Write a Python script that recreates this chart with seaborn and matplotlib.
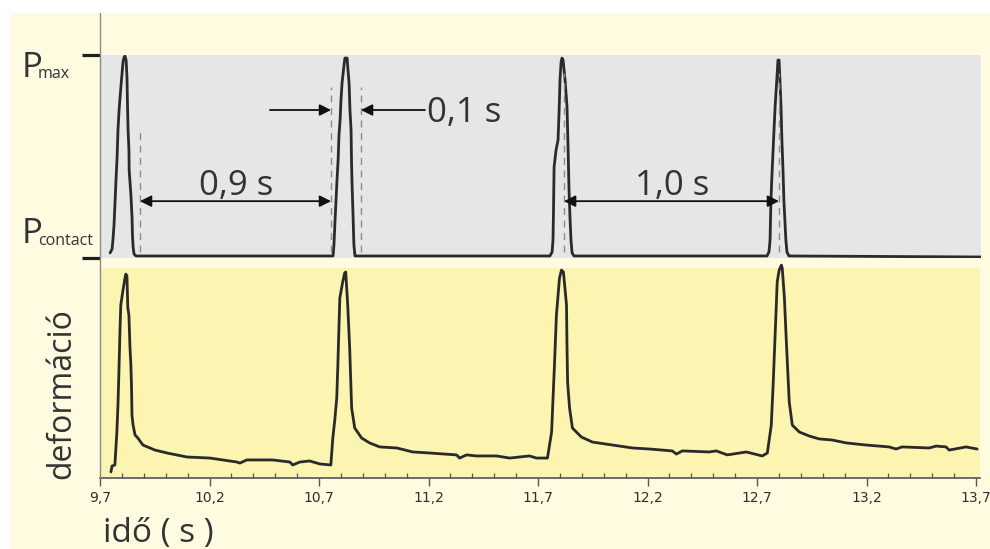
import numpy as np
import pandas as pd
import matplotlib
matplotlib.use("Agg")
import matplotlib.pyplot as plt
import seaborn as sns
from matplotlib.lines import Line2D
from matplotlib.patches import Rectangle

sns.set_theme(style="white")
plt.rcParams['font.family'] = ['Open Sans', 'DejaVu Sans']

# ---------------- data ----------------
# pressure trace: 0 = P_contact, 1 = P_max
press_t = [9.746, 9.755, 9.759, 9.764, 9.768, 9.773, 9.778, 9.782, 9.787, 9.796, 9.805, 9.810, 9.814,
           9.819, 9.823, 9.825, 9.828, 9.832, 9.833, 9.841, 9.846, 9.848, 9.851, 9.855, 9.864,
           10.763, 10.767, 10.772, 10.781, 10.786, 10.790, 10.795, 10.799, 10.804, 10.813, 10.817,
           10.827, 10.831, 10.836, 10.840, 10.845, 10.847, 10.849, 10.854, 10.858, 10.863,
           11.752, 11.762, 11.766, 11.768, 11.771, 11.780, 11.789, 11.794, 11.798, 11.803, 11.807,
           11.812, 11.821, 11.830, 11.835, 11.839, 11.844, 11.848, 11.853, 11.862,
           12.742, 12.751, 12.756, 12.760, 12.765, 12.774, 12.779, 12.788, 12.792, 12.797, 12.801,
           12.806, 12.810, 12.815, 12.819, 12.828, 12.833, 12.842, 13.718]
press_v = [0.025, 0.044, 0.089, 0.163, 0.261, 0.384, 0.498, 0.631, 0.729, 0.852, 0.966, 0.990, 0.995,
           0.975, 0.892, 0.778, 0.631, 0.532, 0.433, 0.310, 0.202, 0.113, 0.054, 0.020, 0.010,
           0.010, 0.064, 0.187, 0.384, 0.483, 0.606, 0.680, 0.778, 0.862, 0.951, 0.985,
           0.985, 0.926, 0.862, 0.729, 0.631, 0.483, 0.384, 0.212, 0.064, 0.010,
           0.010, 0.030, 0.089, 0.212, 0.448, 0.532, 0.581, 0.729, 0.877, 0.966, 0.985,
           0.975, 0.877, 0.744, 0.532, 0.335, 0.187, 0.089, 0.025, 0.010,
           0.010, 0.030, 0.089, 0.286, 0.419, 0.631, 0.744, 0.901, 0.975, 0.975, 0.877,
           0.744, 0.581, 0.433, 0.286, 0.089, 0.030, 0.010, 0.005]

# deformation trace (arbitrary units, 0-100)
deform_t = [9.750, 9.755, 9.768, 9.773, 9.777, 9.782, 9.786, 9.791, 9.795, 9.805, 9.814, 9.818, 9.823,
            9.827, 9.832, 9.837, 9.841, 9.844, 9.846, 9.851, 9.860, 9.873, 9.896, 9.951, 10.006,
            10.097, 10.202, 10.325, 10.339, 10.370, 10.489, 10.567, 10.580, 10.612, 10.658, 10.703, 10.754,
            10.763, 10.772, 10.781, 10.786, 10.795, 10.808, 10.817, 10.822, 10.831, 10.840, 10.849,
            10.863, 10.895, 10.931, 10.977, 11.055, 11.128, 11.205, 11.328, 11.342, 11.374, 11.419,
            11.511, 11.570, 11.661, 11.693, 11.743,
            11.762, 11.775, 11.784, 11.798, 11.807, 11.816, 11.830, 11.832, 11.835, 11.844, 11.857,
            11.898, 11.949, 12.040, 12.131, 12.209, 12.313, 12.332, 12.359, 12.482, 12.514, 12.564,
            12.651, 12.724, 12.747,
            12.765, 12.774, 12.788, 12.792, 12.801, 12.811, 12.815, 12.825, 12.833, 12.847, 12.861,
            12.893, 12.938, 12.984, 13.043, 13.107, 13.198, 13.303, 13.335, 13.362, 13.486, 13.518,
            13.563, 13.577, 13.654, 13.705]
deform_v = [2.9, 5.7, 6.2, 14.8, 21.9, 34.8, 49.0, 69.5, 82.4, 89.5, 95.2, 97.1, 96.2,
            81.0, 77.6, 61.9, 53.8, 42.9, 30.0, 25.2, 20.5, 19.0, 15.7, 13.3, 11.9,
            10.0, 9.5, 7.6, 7.1, 8.6, 8.6, 7.6, 6.2, 7.6, 8.1, 6.7, 6.2,
            19.0, 27.6, 38.1, 53.8, 85.7, 93.3, 97.6, 98.1, 82.4, 61.9, 33.3,
            23.8, 19.0, 16.7, 14.8, 14.3, 12.4, 11.9, 11.0, 9.5, 11.0, 10.5,
            10.5, 9.5, 10.5, 9.5, 9.5,
            21.9, 53.8, 77.6, 95.2, 99.0, 98.1, 82.4, 64.8, 45.7, 33.3, 23.8,
            19.5, 17.1, 15.7, 14.3, 13.8, 12.9, 11.4, 12.9, 12.4, 12.9, 11.0,
            12.4, 10.5, 11.9,
            25.2, 45.7, 82.4, 93.3, 99.0, 101.4, 100.0, 85.7, 66.7, 36.2, 25.2,
            21.9, 20.0, 18.6, 18.1, 16.7, 15.7, 14.8, 13.8, 14.8, 14.3, 15.2,
            14.8, 13.3, 14.8, 13.8]

xticks = [9.7, 10.2, 10.7, 11.2, 11.7, 12.2, 12.7, 13.2, 13.7]
xtick_labels = ['9,7', '10,2', '10,7', '11,2', '11,7', '12,2', '12,7', '13,2', '13,7']

# guide (dashed) lines in the pressure panel
guide_t = [9.882, 10.754, 10.890, 11.816, 12.797]
guide_top = [0.63, 0.84, 0.84, 0.91, 0.91]
# interval arrows: start, end, label
span_start = [9.882, 11.816]
span_end = [10.754, 12.797]
span_label = ['0,9 s', '1,0 s']
span_label_x = [10.320, 12.309]

# ---------------- styling ----------------
W, H = 990, 549
CREAM = '#fefbe1'
GRAY = '#e6e6e6'
YELLOW = '#fcf4b1'
INK = '#2a2a2a'
TXT = '#333333'

fig = plt.figure(figsize=(W / 100, H / 100), dpi=100, facecolor='white')
fig.patches.append(Rectangle((10 / W, 0), 980 / W, (H - 13) / H, transform=fig.transFigure,
                             facecolor=CREAM, edgecolor='none', zorder=-10))


def fbox(x0, y0, x1, y1):
    return [x0 / W, 1 - y1 / H, (x1 - x0) / W, (y1 - y0) / H]


ax1 = fig.add_axes(fbox(100, 55, 981, 258))
ax2 = fig.add_axes(fbox(100, 268, 980, 478))

XMIN, XMAX = 9.7, 13.718

# ---- pressure panel ----
ax1.set_facecolor(GRAY)
dfp = pd.DataFrame({'t': press_t, 'p': press_v})
sns.lineplot(data=dfp, x='t', y='p', ax=ax1, color=INK, lw=2.0, sort=False, estimator=None)
ax1.set_xlim(XMIN, XMAX)
ax1.set_ylim(0, 1)
for s in ax1.spines.values():
    s.set_visible(False)
ax1.set_xticks([])
ax1.set_yticks([0, 1])
ax1.tick_params(axis='y', length=13, width=2.3, color='#1e1e1e', direction='out',
                labelleft=False, left=True)
ax1.set_xlabel('')
ax1.set_ylabel('')

ax1.vlines(guide_t, 0.03, guide_top, colors='#8c8c8c', lw=1.0, linestyles=(0, (5, 4)))

arrow_kw = dict(arrowstyle='<|-|>', color='#111111', lw=1.3, mutation_scale=17,
                shrinkA=0, shrinkB=0)
for a, b, lab, lx in zip(span_start, span_end, span_label, span_label_x):
    ax1.annotate('', xy=(b, 0.28), xytext=(a, 0.28), arrowprops=arrow_kw)
    ax1.text(lx, 0.31, lab, ha='center', va='baseline', fontsize=25, color=TXT)

one_kw = dict(arrowstyle='-|>', color='#111111', lw=1.3, mutation_scale=17, shrinkA=0, shrinkB=0)
ax1.annotate('', xy=(10.754, 0.729), xytext=(10.475, 0.729), arrowprops=one_kw)
ax1.annotate('', xy=(10.890, 0.729), xytext=(11.182, 0.729), arrowprops=one_kw)
ax1.text(11.191, 0.67, '0,1 s', ha='left', va='baseline', fontsize=25, color=TXT)

# ---- deformation panel ----
ax2.set_facecolor(YELLOW)
dfd = pd.DataFrame({'t': deform_t, 'd': deform_v})
sns.lineplot(data=dfd, x='t', y='d', ax=ax2, color=INK, lw=2.0, sort=False, estimator=None)
for line in ax2.lines:
    line.set_clip_on(False)
ax2.set_xlim(XMIN, XMAX)
ax2.set_ylim(0, 100)
for k in ['left', 'top', 'right']:
    ax2.spines[k].set_visible(False)
ax2.spines['bottom'].set_color('#555555')
ax2.spines['bottom'].set_linewidth(1.2)
ax2.set_yticks([])
ax2.set_xticks(xticks)
ax2.set_xticklabels(xtick_labels, fontsize=10, color='#2e2e2e', family='DejaVu Sans')
ax2.set_xticks(np.round(np.arange(9.8, 13.7, 0.1), 2), minor=True)
ax2.tick_params(axis='x', which='major', direction='out', length=6, width=1.0, color='#555555',
                pad=3, bottom=True)
ax2.tick_params(axis='x', which='minor', direction='in', length=3.5, width=0.9, color='#555555',
                bottom=True)
ax2.set_xlabel('')
ax2.set_ylabel('')

# vertical axis line spanning both panels
fig.add_artist(Line2D([100 / W, 100 / W], [1 - 13 / H, 1 - 478 / H], color='#8a8a8a', lw=1.0))

# labels
fig.text(22 / W, 1 - 77 / H, 'P', fontsize=25, color=TXT, va='baseline', ha='left')
fig.text(38 / W, 1 - 78 / H, 'max', fontsize=11.5, color=TXT, va='baseline', ha='left')
fig.text(22 / W, 1 - 243 / H, 'P', fontsize=25, color=TXT, va='baseline', ha='left')
fig.text(38 / W, 1 - 245 / H, 'contact', fontsize=11.5, color=TXT, va='baseline', ha='left')

fig.text(61.5 / W, 1 - 394 / H, 'deformáció', fontsize=23, color=TXT, rotation=90,
         ha='center', va='center')
fig.text(103 / W, 1 - 542 / H, 'idő ( s )', fontsize=24, color=TXT, ha='left', va='baseline')

fig.savefig('out.png', dpi=100, facecolor=fig.get_facecolor())
